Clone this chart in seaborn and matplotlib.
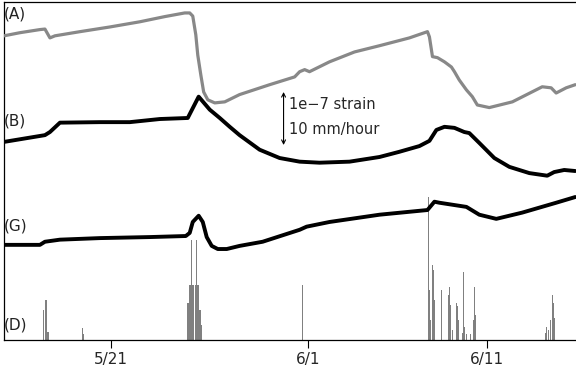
import matplotlib
matplotlib.use("Agg")
import matplotlib.pyplot as plt
import seaborn as sns
import pandas as pd
import numpy as np

# ---- data (time in days since 5/15 00:00) ----
# (A) strain change, 1e-7 units
a_day = [0, 0.89, 2.01, 2.29, 2.57, 2.85, 4.25, 5.92, 7.60, 9.0, 10.11, 10.39, 10.56, 10.73,
         10.84, 11.01, 11.17, 11.40, 11.79, 12.35, 13.18, 14.86, 16.26, 16.54, 16.82, 17.09,
         18.21, 19.61, 21.01, 22.68, 23.69, 23.80, 23.97, 24.25, 24.64, 25.03, 25.20, 25.47,
         25.87, 26.20, 26.48, 27.15, 28.44, 30.11, 30.61, 30.89, 31.45, 31.96]
a_val = [0, 0.06, 0.12, 0.13, -0.04, 0, 0.08, 0.17, 0.27, 0.37, 0.44, 0.44, 0.38, 0.02,
         -0.37, -0.75, -1.08, -1.23, -1.29, -1.27, -1.13, -0.94, -0.79, -0.69, -0.65, -0.69,
         -0.50, -0.31, -0.19, -0.04, 0.08, -0.02, -0.40, -0.42, -0.50, -0.60, -0.69, -0.85,
         -1.04, -1.17, -1.33, -1.38, -1.27, -0.98, -1.00, -1.10, -1.00, -0.94]

# (B) strain change, 1e-7 units
b_day = [0, 2.29, 2.57, 3.13, 5.36, 7.04, 8.72, 10.28, 10.89, 11.51, 12.07, 12.63, 13.18,
         14.30, 15.42, 16.54, 17.65, 19.33, 21.01, 22.12, 23.24, 23.80, 24.19, 24.64, 25.20,
         25.75, 26.03, 26.59, 27.43, 28.27, 29.39, 30.39, 30.78, 31.34, 31.96]
b_val = [0, 0.13, 0.19, 0.37, 0.38, 0.38, 0.44, 0.46, 0.87, 0.62, 0.46, 0.29, 0.13,
         -0.15, -0.31, -0.38, -0.40, -0.38, -0.29, -0.19, -0.08, 0.02, 0.23, 0.29, 0.27,
         0.19, 0.17, -0.02, -0.31, -0.48, -0.60, -0.65, -0.58, -0.54, -0.56]

# (G) strain change, 1e-7 units
g_day = [0, 2.01, 2.29, 3.13, 5.36, 8.16, 10.17, 10.39, 10.56, 10.89, 11.12, 11.34, 11.62,
         11.96, 12.46, 13.18, 14.47, 16.54, 16.93, 18.21, 21.01, 23.69, 24.08, 24.36, 25.87,
         26.59, 27.54, 28.99, 30.89, 31.96]
g_val = [0, 0, 0.06, 0.10, 0.13, 0.15, 0.17, 0.23, 0.44, 0.56, 0.44, 0.15, -0.02,
         -0.08, -0.08, -0.02, 0.06, 0.29, 0.35, 0.44, 0.58, 0.67, 0.83, 0.81, 0.73,
         0.58, 0.50, 0.62, 0.81, 0.92]

# (D) hourly precipitation, mm/hour
d_day = [2.23, 2.35, 2.40, 2.46, 4.41, 4.47,
         10.28, 10.34, 10.39, 10.45, 10.50, 10.56, 10.61, 10.73, 10.78, 10.84, 10.89, 10.95,
         11.01, 11.06, 16.70,
         23.74, 23.80, 23.85, 23.97, 24.02, 24.08, 24.47, 24.86, 24.92, 24.97, 25.08, 25.31,
         25.36, 25.42, 25.64, 25.70, 25.75, 25.87, 26.09, 26.26, 26.31, 26.37,
         30.28, 30.34, 30.45, 30.56, 30.67, 30.73, 30.78]
d_val = [5.7, 7.6, 4.9, 1.4, 2.2, 1.0,
         7.0, 7.0, 10.5, 10.5, 19.1, 10.5, 10.5, 10.5, 19.1, 10.5, 10.5, 5.7,
         5.7, 2.8, 10.5,
         27.4, 9.5, 3.8, 14.3, 13.4, 7.6, 9.5, 8.6, 10.1, 6.6, 1.8, 7.0,
         6.4, 3.8, 1.3, 13.0, 2.4, 1.1, 1.1, 3.8, 10.1, 4.7,
         1.3, 2.4, 1.8, 3.8, 8.6, 7.0, 4.1]

tick_days = [6, 17, 27]
tick_labels = ["5/21", "6/1", "6/11"]
trace_labels = ["(A)", "(B)", "(G)", "(D)"]

# ---- layout constants ----
offsets = {"A": 5.84, "B": 3.80, "G": 1.82}
rain_scale = 0.1  # 10 mm/hour == 1e-7 strain bar

sns.set_theme(style="ticks")
plt.rcParams["font.family"] = ["DejaVu Sans"]

fig = plt.figure(figsize=(5.76, 3.73), dpi=100)
ax = fig.add_axes([4 / 576, 33.5 / 373, 572 / 576, 337.5 / 373])

dfA = pd.DataFrame({"day": a_day, "v": np.array(a_val) + offsets["A"]})
dfB = pd.DataFrame({"day": b_day, "v": np.array(b_val) + offsets["B"]})
dfG = pd.DataFrame({"day": g_day, "v": np.array(g_val) + offsets["G"]})

ax.bar(d_day, np.array(d_val) * rain_scale, width=0.065, color="#808080",
       linewidth=0, align="center", zorder=1)
sns.lineplot(data=dfA, x="day", y="v", ax=ax, color="#888888", lw=2.3, sort=False,
             solid_joinstyle="round", zorder=3)
sns.lineplot(data=dfB, x="day", y="v", ax=ax, color="black", lw=2.8, sort=False,
             solid_joinstyle="round", zorder=3)
sns.lineplot(data=dfG, x="day", y="v", ax=ax, color="black", lw=2.8, sort=False,
             solid_joinstyle="round", zorder=3)

ax.set_xlim(0, 32)
ax.set_ylim(0, 337.5 / 52)
ax.set_xticks(tick_days)
ax.set_xticklabels(tick_labels, fontsize=11)
ax.set_yticks([])
ax.set_xlabel("")
ax.set_ylabel("")
ax.tick_params(axis="x", direction="out", length=6, width=0.8, color="black", pad=3)
for s in ["left", "bottom", "top"]:
    ax.spines[s].set_color("black")
    ax.spines[s].set_linewidth(0.9)
ax.spines["right"].set_visible(False)

label_y = [6.26, 4.20, 2.18, 0.28]
for lab, yy in zip(trace_labels, label_y):
    ax.text(0.0, yy, lab, fontsize=11, ha="left", va="center", color="#222222")

ax.annotate("", xy=(15.64, 4.76), xytext=(15.64, 3.74),
            arrowprops=dict(arrowstyle="<->", color="black", lw=0.8,
                            shrinkA=0, shrinkB=0, mutation_scale=7))
ax.text(15.95, 4.51, "1e\u22127 strain", fontsize=10.5, ha="left", va="center")
ax.text(15.95, 4.03, "10 mm/hour", fontsize=10.5, ha="left", va="center")

fig.savefig("out.png", dpi=100)
